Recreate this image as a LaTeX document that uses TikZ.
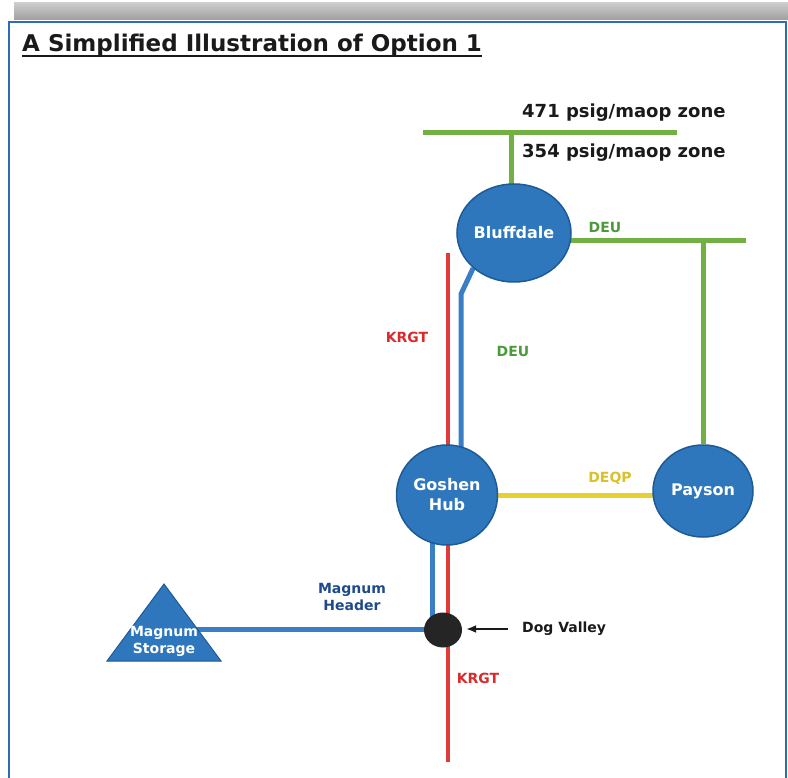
\documentclass[tikz,border=0pt]{standalone}
\usepackage{fontspec}
\setmainfont{DejaVu Sans}
\usetikzlibrary{arrows.meta,shapes.geometric,backgrounds}
\definecolor{hubfill}{HTML}{2F77BC}
\definecolor{hubedge}{HTML}{1D5A96}
\definecolor{pipeblue}{HTML}{3A7EC4}
\definecolor{pipegreen}{HTML}{72B043}
\definecolor{pipered}{HTML}{E03A3A}
\definecolor{pipeyellow}{HTML}{E8D02E}
\definecolor{lblgreen}{HTML}{4C9A3C}
\definecolor{lblred}{HTML}{D92B2B}
\definecolor{lblyellow}{HTML}{D9C12A}
\definecolor{lblnavy}{HTML}{1E4A8A}
\definecolor{framecol}{HTML}{2D6DB5}
\definecolor{inkcol}{HTML}{1A1A1A}

\begin{document}
\begin{tikzpicture}[x=1pt,y=-1pt]

		\tikzset{hub/.style = {ellipse,draw=hubedge,line width=1.5pt,fill=hubfill,text=white,inner sep=0pt,align=center,font=\bfseries\fontsize{16}{20}\selectfont}}
		\tikzset{pipe/.style = {line width=5pt}}
		\tikzset{lbl/.style = {inner sep=0pt,align=center,font=\bfseries\fontsize{14}{17}\selectfont}}
		\tikzset{zone/.style = {inner sep=0pt,anchor=base west,text=inkcol,font=\bfseries\fontsize{18}{20}\selectfont}}
		\useasboundingbox (0,0) rectangle (788,778);
		%frame
		\shade[top color=gray!40,bottom color=gray!75] (14,3) rectangle (788,20);
		\draw[framecol,line width=2.5pt] (9,778) -- (9,22) -- (786,22) -- (786,778);
		\node[anchor=base west,inner sep=0pt,text=inkcol,font=\bfseries\fontsize{23}{26}\selectfont] (title) at (22,52) {A Simplified Illustration of Option 1};
		\draw[inkcol,line width=1.5pt] ([yshift=-4pt]title.base west) -- ([yshift=-4pt]title.base east);
		%nodes
		\node[hub,minimum width=108,minimum height=98] (bluff) at (514,233) {Bluffdale};
		\node[hub,minimum width=101,minimum height=100] (goshen) at (447,495) {Goshen\\Hub};
		\node[hub,minimum width=100,minimum height=92] (payson) at (703,491) {Payson};
		\node[ellipse,fill=inkcol!95,minimum width=38,minimum height=35,inner sep=0pt] (dog) at (443,630) {};
		\draw[hubedge,fill=hubfill,line width=1pt] (107,661) -- (164,584) -- (221,661) -- cycle;
		\node[lbl,text=white] (storage) at (164,641) {Magnum\\Storage};
		\coordinate (zl) at (423,133);
		\coordinate (zr) at (677,133);
		\coordinate (zt) at (511,133);
		\coordinate (deu) at (746,241);
		\coordinate (deut) at (703,241);
		\coordinate (kt) at (448,253);
		\coordinate (kb) at (448,762);
		\coordinate (bk) at (461,294);
		\coordinate (bl) at (432,630);
		\coordinate (hdr) at (190,629);
		\coordinate (arr) at (508,629);
		%edges
		\begin{scope}[on background layer]
		\draw[pipe,pipegreen] (zl) -- (zr);
		\draw[pipe,pipegreen] (zt) -- (zt |- bluff.center);
		\draw[pipe,pipegreen] (bluff.center |- deu) -- (deu);
		\draw[pipe,pipegreen] (deut) -- (payson);
		\draw[pipe,pipeblue] (bluff.south west) -- (bk) -- (bk |- goshen.center);
		\draw[pipe,pipered,line width=4pt] (kt) -- (kb);
		\draw[pipe,pipeblue] (bl |- goshen.center) -- (bl);
		\draw[pipe,pipeblue] (hdr) -- (hdr -| dog.center);
		\draw[pipe,pipeyellow] (goshen.center) -- (goshen.center -| payson.center);
		\end{scope}
		\draw[-{Latex[length=10pt,width=8pt]},inkcol,line width=1.8pt,shorten >=4pt] (arr) -- (arr -| dog.east);
		%labels
		\node[zone] (z471) at (522,118) {471 psig/maop zone};
		\node[zone] (z354) at (522,158) {354 psig/maop zone};
		\node[lbl,text=lblgreen] (deutop) at (605,227) {DEU};
		\node[lbl,text=lblgreen] (deumid) at (513,351) {DEU};
		\node[lbl,text=lblred] (krgttop) at (407,337) {KRGT};
		\node[lbl,text=lblyellow] (deqp) at (610,478) {DEQP};
		\node[lbl,text=lblred] (krgtlow) at (478,678) {KRGT};
		\node[lbl,text=lblnavy] (header) at (352,597) {Magnum\\Header};
		\node[lbl,anchor=west,text=inkcol] (dogval) at (522,629) {Dog Valley};
		\end{tikzpicture}
\end{document}
